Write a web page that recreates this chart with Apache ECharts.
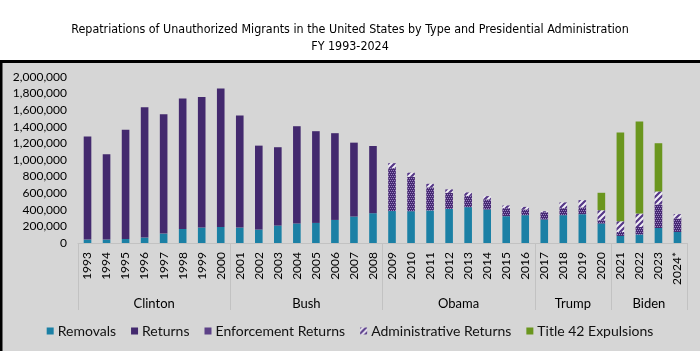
<!DOCTYPE html>
<html>
<head>
<meta charset="utf-8">
<script src="https://cdn.jsdelivr.net/npm/echarts@6/dist/echarts.min.js"></script>
<style>
  html, body { margin: 0; padding: 0; background: #fff; }
  #chart { width: 700px; height: 351px; }
</style>
</head>
<body>
<div id="chart"></div>
<script>
  // fiscal years
  var years = ['1993','1994','1995','1996','1997','1998','1999','2000',
               '2001','2002','2003','2004','2005','2006','2007','2008',
               '2009','2010','2011','2012','2013','2014','2015','2016',
               '2017','2018','2019','2020','2021','2022','2023','2024*'];
  // administrations and how many years each covers
  var groupNames = ['Clinton', 'Bush', 'Obama', 'Trump', 'Biden'];
  var groupSizes = [8, 8, 8, 4, 4];

  var removals = [41000, 41000, 48000, 65000, 113000, 169000, 186000, 193000,
                  186000, 162000, 210000, 235000, 242000, 278000, 319000, 359000,
                  385000, 383000, 392000, 411000, 432000, 404000, 323000, 335000,
                  283000, 335000, 347000, 235000, 85000, 102000, 181000, 133000];
  var returns = [1241000, 1028000, 1315000, 1572000, 1439000, 1572000, 1572000, 1669000,
                 1350000, 1011000, 944000, 1172000, 1105000, 1045000, 890000, 810000,
                 null, null, null, null, null, null, null, null,
                 null, null, null, null, null, null, null, null];
  var enforcementReturns = [null, null, null, null, null, null, null, null,
                            null, null, null, null, null, null, null, null,
                            517000, 415000, 278000, 194000, 136000, 121000, 97000, 69000,
                            88000, 85000, 81000, 40000, 48000, 91000, 283000, 162000];
  var adminReturns = [null, null, null, null, null, null, null, null,
                      null, null, null, null, null, null, null, null,
                      60000, 49000, 43000, 41000, 41000, 40000, 32000, 31000,
                      12000, 69000, 88000, 120000, 129000, 162000, 157000, 52000];
  var title42 = [null, null, null, null, null, null, null, null,
                 null, null, null, null, null, null, null, null,
                 null, null, null, null, null, null, null, null,
                 null, null, null, 210000, 1068000, 1108000, 581000, null];

  // group boundaries and centres (in category units)
  var groupEdges = [0];
  var groupMids = [];
  groupSizes.forEach(function (n, i) {
    groupMids.push(groupEdges[i] + n / 2);
    groupEdges.push(groupEdges[i] + n);
  });

  // fill patterns
  function dotPattern() {
    var c = document.createElement('canvas');
    c.width = 4; c.height = 4;
    var ctx = c.getContext('2d');
    ctx.fillStyle = '#472a73';
    ctx.fillRect(0, 0, 4, 4);
    ctx.fillStyle = '#9d86c4';
    ctx.fillRect(0, 0, 1, 1);
    ctx.fillRect(2, 0, 1, 1);
    ctx.fillRect(1, 2, 1, 1);
    ctx.fillRect(3, 2, 1, 1);
    return c;
  }
  function hatchPattern() {
    var c = document.createElement('canvas');
    c.width = 6; c.height = 6;
    var ctx = c.getContext('2d');
    ctx.fillStyle = '#f1eef6';
    ctx.fillRect(0, 0, 6, 6);
    ctx.strokeStyle = '#553787';
    ctx.lineWidth = 2.2;
    ctx.beginPath();
    ctx.moveTo(-1, 7); ctx.lineTo(7, -1);
    ctx.moveTo(-4, 4); ctx.lineTo(4, -4);
    ctx.moveTo(2, 10); ctx.lineTo(10, 2);
    ctx.stroke();
    return c;
  }

  var chart = echarts.init(document.getElementById('chart'));
  var font = 'Lato, "Open Sans", sans-serif';

  var option = {
    backgroundColor: '#ffffff',
    animation: false,
    graphic: [{
      type: 'rect', z: -10, silent: true,
      shape: { x: 1, y: 61.5, width: 710, height: 300 },
      style: { fill: '#d6d6d6', stroke: '#000', lineWidth: 3 }
    }],
    title: {
      text: 'Repatriations of Unauthorized Migrants in the United States by Type and Presidential Administration\nFY 1993-2024',
      left: 'center',
      top: 16,
      textStyle: {
        fontFamily: '"Liberation Sans Narrow", "Arial Narrow", "DejaVu Sans Condensed", sans-serif',
        fontSize: 12.4, fontWeight: 'normal', color: '#000', lineHeight: 17
      }
    },
    legend: {
      bottom: 8,
      left: 'center',
      icon: 'rect',
      itemWidth: 7, itemHeight: 7, itemGap: 15,
      textStyle: { fontFamily: font, fontSize: 14, color: '#111', padding: [0, 0, 0, -1] },
      data: ['Removals', 'Returns', 'Enforcement Returns', 'Administrative Returns', 'Title 42 Expulsions']
    },
    grid: { left: 78, right: 13, top: 77, bottom: 108 },
    xAxis: [{
      type: 'category',
      data: years,
      axisLine: { lineStyle: { color: '#c2c2c2', width: 1 } },
      axisTick: { show: false },
      axisLabel: { rotate: 90, margin: 9, fontFamily: font, fontSize: 12, color: '#000', interval: 0 }
    }, {
      type: 'value',
      position: 'bottom',
      min: 0, max: years.length,
      axisLine: { show: false },
      splitLine: { show: false },
      axisTick: { show: true, length: 67, customValues: groupEdges, lineStyle: { color: '#c2c2c2' } },
      axisLabel: {
        customValues: groupMids, margin: 54, fontFamily: font, fontSize: 13, color: '#000',
        formatter: function (v) { return groupNames[groupMids.indexOf(v)] || ''; }
      }
    }],
    yAxis: {
      type: 'value',
      min: 0, max: 2000000, interval: 200000,
      axisLine: { show: false },
      axisTick: { show: false },
      splitLine: { show: false },
      axisLabel: {
        margin: 11, fontFamily: font, fontSize: 12, color: '#000',
        formatter: function (v) { return v.toLocaleString('en-US'); }
      }
    },
    series: [{
      name: 'Removals', type: 'bar', stack: 'all', barWidth: '40%',
      itemStyle: { color: '#1b80a5' }, data: removals
    }, {
      name: 'Returns', type: 'bar', stack: 'all',
      itemStyle: { color: '#43296e' }, data: returns
    }, {
      name: 'Enforcement Returns', type: 'bar', stack: 'all',
      itemStyle: { color: { image: dotPattern(), repeat: 'repeat' } }, data: enforcementReturns
    }, {
      name: 'Administrative Returns', type: 'bar', stack: 'all',
      itemStyle: { color: { image: hatchPattern(), repeat: 'repeat' } }, data: adminReturns
    }, {
      name: 'Title 42 Expulsions', type: 'bar', stack: 'all',
      itemStyle: { color: '#6a961e' }, data: title42
    }]
  };

  chart.setOption(option);
</script>
</body>
</html>
